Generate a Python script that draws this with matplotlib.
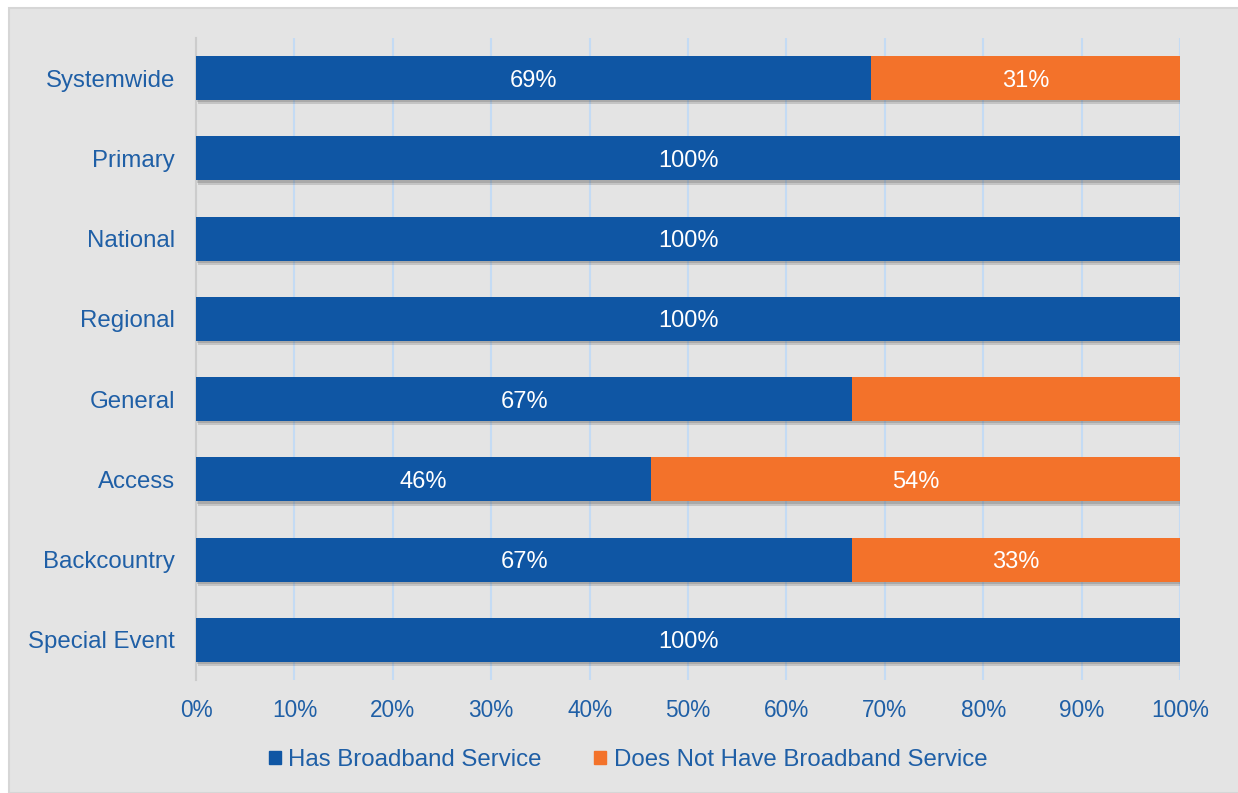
import matplotlib
matplotlib.use("Agg")
import matplotlib.pyplot as plt
import matplotlib.patheffects as pe
from matplotlib.patches import Rectangle, Patch

plt.rcParams["font.family"] = ["Liberation Sans", "DejaVu Sans"]

categories = ["Systemwide", "Primary", "National", "Regional",
              "General", "Access", "Backcountry", "Special Event"]
has_broadband = [68.6, 100, 100, 100, 66.7, 46.2, 66.7, 100]
no_broadband = [31.4, 0, 0, 0, 33.3, 53.8, 33.3, 0]
show_no_label = [True, False, False, False, False, True, True, False]
ticks = [0, 10, 20, 30, 40, 50, 60, 70, 80, 90, 100]

BLUE = "#0f56a4"
ORANGE = "#f3722a"
TEXT = "#1f5fa6"
BG = "#e4e4e4"

fig = plt.figure(figsize=(12.38, 7.93), dpi=100, facecolor="white")
# grey panel behind the chart
fig.patches.append(Rectangle((9 / 1238, 0), 1, 1 - 8 / 793, transform=fig.transFigure,
                             fc=BG, ec="#d6d6d6", lw=1.5, zorder=-10))

ax = fig.add_axes([196 / 1238, 1 - 680 / 793, 984 / 1238, 642 / 793])
ax.set_facecolor("none")

y = list(range(len(categories)))
# soft drop shadow under the bars
shadow = [pe.SimplePatchShadow(offset=(1.5, -3), alpha=0.18, shadow_rgbFace="#333333"),
          pe.SimplePatchShadow(offset=(1, -1.5), alpha=0.18, shadow_rgbFace="#333333"),
          pe.Normal()]
b1 = ax.barh(y, has_broadband, height=0.55, color=BLUE, zorder=3)
b2 = ax.barh(y, no_broadband, left=has_broadband, height=0.55, color=ORANGE, zorder=3)
for bar in list(b1) + list(b2):
    if bar.get_width() > 0:
        bar.set_path_effects(shadow)

for i in y:
    ax.text(has_broadband[i] / 2, i, f"{round(has_broadband[i])}%", ha="center",
            va="center_baseline", color="white", fontsize=17, zorder=5)
    if show_no_label[i]:
        ax.text(has_broadband[i] + no_broadband[i] / 2, i, f"{round(no_broadband[i])}%",
                ha="center", va="center_baseline", color="white", fontsize=17, zorder=5)

ax.set_xlim(0, 100)
ax.set_ylim(len(categories) - 0.5, -0.5)
ax.set_yticks(y)
ax.set_yticklabels(categories)
ax.set_xticks(ticks)
ax.set_xticklabels([f"{t}%" for t in ticks])
ax.tick_params(axis="x", length=0, pad=14, labelsize=16.3, labelcolor=TEXT)
ax.tick_params(axis="y", length=0, pad=15, labelsize=17.3, labelcolor=TEXT)

ax.set_axisbelow(True)
ax.grid(axis="x", color="#c4dbf4", lw=1.5)
ax.grid(axis="y", visible=False)
for s in ["top", "right", "bottom"]:
    ax.spines[s].set_visible(False)
ax.spines["left"].set_color("#cccccc")
ax.spines["left"].set_linewidth(1.5)

handles = [Patch(color=BLUE, label="Has Broadband Service"),
           Patch(color=ORANGE, label="Does Not Have Broadband Service")]
fig.legend(handles=handles, loc="center", bbox_to_anchor=(628 / 1238, 1 - 760 / 793),
           ncol=2, frameon=False, fontsize=17.3, labelcolor=TEXT, handlelength=0.5,
           handleheight=0.5, handletextpad=0.3, columnspacing=2.2)

fig.savefig("out.png", dpi=100, facecolor="white")
